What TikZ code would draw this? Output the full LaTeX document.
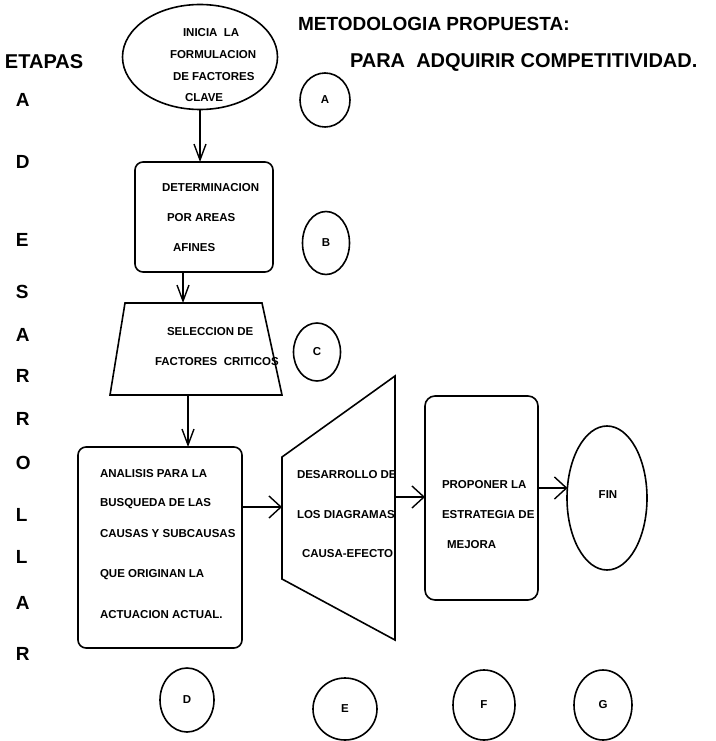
\documentclass[tikz,border=0pt]{standalone}
\usepackage{fontspec}
\setmainfont{Liberation Sans}
\usetikzlibrary{arrows.meta,shapes.geometric}

\begin{document}
\begin{tikzpicture}[x=1pt,y=-1pt,
  line width=1.6pt,
  every node/.style={inner sep=0pt, outer sep=0pt},
  lbl/.style={font=\fontsize{11.5}{12}\selectfont\bfseries, anchor=west},
  big/.style={font=\fontsize{20}{22}\selectfont\bfseries, anchor=west},
  letter/.style={font=\fontsize{19}{20}\selectfont\bfseries, anchor=west},
  oval/.style={draw, ellipse},
  boxr/.style={draw, rounded corners=8pt},
  stage/.style={draw, ellipse, font=\fontsize{11.5}{12}\selectfont\bfseries},
  varrow/.style={-{Straight Barb[length=16pt,width=12pt,line width=1.4pt]}},
  harrow/.style={-{Straight Barb[length=12pt,width=22pt,line width=1.4pt]}},
]
\useasboundingbox (0,0) rectangle (715,741);

% headings
\node[letter] (titulo) at (298,24) {METODOLOGIA PROPUESTA:};
\node[big] (subtitulo) at (350,62) {PARA\ \ ADQUIRIR COMPETITIVIDAD.};
\node[big] (etapas) at (5,62) {ETAPAS};

% vertical word on the left
\foreach \ch/\yy [count=\i] in {A/100,D/162,E/240,S/292,A/335,R/376,R/419,O/463,L/515,L/557,A/603,R/654}
  \node[letter] (v\i) at (16,\yy) {\ch};

% start ellipse
\node[oval, minimum width=155pt, minimum height=105pt] (inicia) at (200,57) {};
\node[lbl] (t1a) at (183,33) {INICIA\ \ LA};
\node[lbl] (t1b) at (170,55) {FORMULACION};
\node[lbl] (t1c) at (173,77) {DE FACTORES};
\node[lbl] (t1d) at (185,98) {CLAVE};

% box B
\node[boxr, minimum width=138pt, minimum height=110pt] (b) at (204,217) {};
\node[lbl] (t2a) at (162,188) {DETERMINACION};
\node[lbl] (t2b) at (167,218) {POR AREAS};
\node[lbl] (t2c) at (173,248) {AFINES};

% trapezoid C
\coordinate (c1) at (125,303);
\coordinate (c2) at (262,303);
\coordinate (c3) at (282,395);
\coordinate (c4) at (110,395);
\node[lbl] (t3a) at (167,332) {SELECCION DE};
\node[lbl] (t3b) at (155,362) {FACTORES\ \ CRITICOS};
\draw (c1) -- (c2) -- (c3) -- (c4) -- cycle;

% box D
\node[boxr, minimum width=164pt, minimum height=201pt] (d) at (160,547.5) {};
\node[lbl] (t4a) at (100,474) {ANALISIS PARA LA};
\node[lbl] (t4b) at (100,504) {BUSQUEDA DE LAS};
\node[lbl] (t4c) at (100,534) {CAUSAS Y SUBCAUSAS};
\node[lbl] (t4d) at (100,575) {QUE ORIGINAN LA};
\node[lbl] (t4e) at (100,615) {ACTUACION ACTUAL.};

% trapezoid E
\coordinate (e1) at (282,457);
\coordinate (e2) at (395,376);
\coordinate (e3) at (395,640);
\coordinate (e4) at (282,579);
\node[lbl] (t5a) at (297,475) {DESARROLLO DE};
\node[lbl] (t5b) at (297,515) {LOS DIAGRAMAS};
\node[lbl] (t5c) at (302,554) {CAUSA-EFECTO};
\draw (e1) -- (e2) -- (e3) -- (e4) -- cycle;

% box F
\node[boxr, rounded corners=10pt, minimum width=113pt, minimum height=204pt] (f) at (481.5,498) {};
\node[lbl] (t6a) at (442,485) {PROPONER LA};
\node[lbl] (t6b) at (442,515) {ESTRATEGIA DE};
\node[lbl] (t6c) at (447,545) {MEJORA};

% end ellipse
\node[oval, minimum width=80pt, minimum height=144pt] (fin) at (607,498) {};
\node[lbl, anchor=center] (t7) at (608,495) {FIN};

% stage markers
\node[stage, minimum width=50pt, minimum height=54pt] (sa) at (325,100) {A};
\node[stage, minimum width=47pt, minimum height=63pt] (sb) at (326,243) {B};
\node[stage, minimum width=47pt, minimum height=58pt] (sc) at (317,352) {C};
\node[stage, minimum width=54pt, minimum height=64pt] (sd) at (187,700) {D};
\node[stage, minimum width=64pt, minimum height=62pt] (se) at (345,709) {E};
\node[stage, minimum width=62pt, minimum height=70pt] (sf) at (484,705) {F};
\node[stage, minimum width=58pt, minimum height=70pt] (sg) at (603,705) {G};

% connectors
\coordinate (cTop) at (183,303);
\coordinate (cBot) at (188,395);
\coordinate (eIn) at (282,507);
\coordinate (eOut) at (395,497);
\coordinate (finIn) at (567.5,488);
\draw[varrow] (inicia.south) -- (inicia.south |- b.north);
\draw[varrow] (b.south -| cTop) -- (cTop);
\draw[varrow] (cBot) -- (cBot |- d.north);
\draw[harrow] (d.east |- eIn) -- (eIn);
\draw[harrow] (eOut) -- (eOut -| f.west);
\draw[harrow] (f.east |- finIn) -- (finIn);
\end{tikzpicture}
\end{document}
